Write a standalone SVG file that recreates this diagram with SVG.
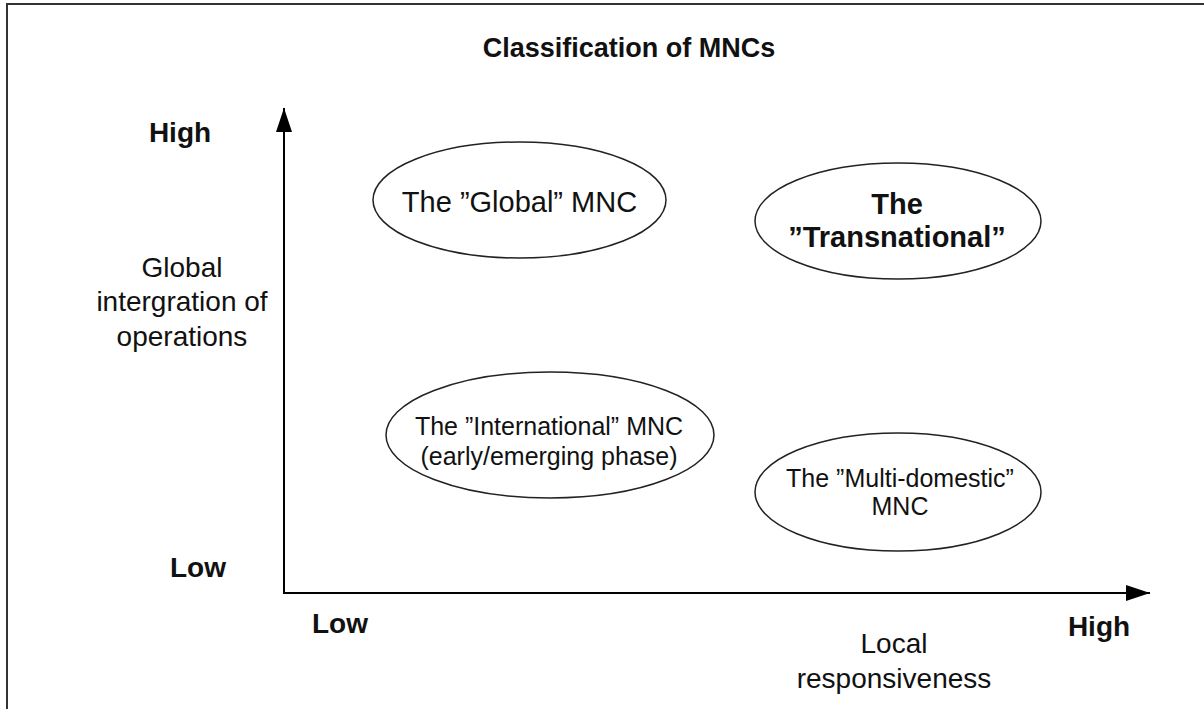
<svg xmlns="http://www.w3.org/2000/svg" width="1204" height="709" viewBox="0 0 1204 709">
  <defs>
    <marker id="arrow" viewBox="0 0 24 16" refX="24" refY="8" markerWidth="24" markerHeight="16" markerUnits="userSpaceOnUse" orient="auto">
      <path d="M0,0 L24,8 L0,16 Z" fill="#000"/>
    </marker>
    <style>
      .t { font-family: "Liberation Sans", Arial, sans-serif; fill: #111; text-anchor: middle; }
      .b { font-weight: bold; }
      .node ellipse { fill: #fff; stroke: #222; stroke-width: 1.5; }
      .axis { stroke: #000; stroke-width: 2; fill: none; }
    </style>
  </defs>
  <rect x="0" y="0" width="1204" height="709" fill="#fff"/>
  <rect x="7" y="4" width="1215" height="720" fill="none" stroke="#333" stroke-width="2"/>

  <text class="t b" x="629" y="57" font-size="27">Classification of MNCs</text>

  <g id="connectors">
    <line class="axis" x1="284" y1="594" x2="284" y2="108" marker-end="url(#arrow)"/>
    <line class="axis" x1="283" y1="593" x2="1150" y2="593" marker-end="url(#arrow)"/>
  </g>

  <g id="y-high"><text class="t b" x="180" y="142" font-size="28">High</text></g>
  <g id="y-low"><text class="t b" x="198" y="577" font-size="28">Low</text></g>
  <g id="y-label">
    <text class="t" x="182" y="277" font-size="28">Global</text>
    <text class="t" x="182" y="311" font-size="28">intergration of</text>
    <text class="t" x="182" y="346" font-size="28">operations</text>
  </g>
  <g id="x-low"><text class="t b" x="340" y="633" font-size="28">Low</text></g>
  <g id="x-high"><text class="t b" x="1099" y="636" font-size="28">High</text></g>
  <g id="x-label">
    <text class="t" x="894" y="653" font-size="28">Local</text>
    <text class="t" x="894" y="688" font-size="28">responsiveness</text>
  </g>

  <g id="node-global" class="node">
    <ellipse cx="519.5" cy="200" rx="146.5" ry="58"/>
    <text class="t" x="519.5" y="212" font-size="29">The ”Global” MNC</text>
  </g>
  <g id="node-transnational" class="node">
    <ellipse cx="898" cy="221" rx="143" ry="58"/>
    <text class="t b" x="897" y="214" font-size="29">The</text>
    <text class="t b" x="897" y="247" font-size="29">”Transnational”</text>
  </g>
  <g id="node-international" class="node">
    <ellipse cx="550" cy="435" rx="164" ry="63"/>
    <text class="t" x="549" y="435" font-size="25">The ”International” MNC</text>
    <text class="t" x="549" y="465" font-size="25">(early/emerging phase)</text>
  </g>
  <g id="node-multidomestic" class="node">
    <ellipse cx="898" cy="492" rx="143" ry="59"/>
    <text class="t" x="900" y="487" font-size="25">The ”Multi-domestic”</text>
    <text class="t" x="900" y="515" font-size="25">MNC</text>
  </g>
</svg>
